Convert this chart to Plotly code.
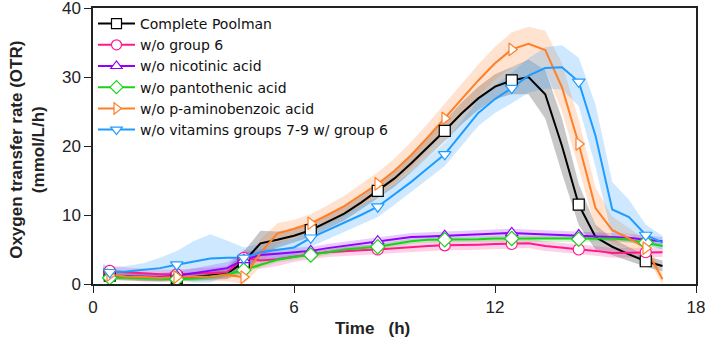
import plotly.graph_objects as go

time_h = [0.3, 0.5, 1.0, 1.5, 2.0, 2.5, 3.0, 3.5, 4.0, 4.5, 5.0, 5.5, 6.0, 6.5, 7.0, 7.5, 8.0, 8.5,
          9.0, 9.5, 10.0, 10.5, 11.0, 11.5, 12.0, 12.5, 13.0, 13.5, 14.0, 14.5, 15.0, 15.5, 16.0, 16.5, 17.0]
marker_times = [0.5, 2.5, 4.5, 6.5, 8.5, 10.5, 12.5, 14.5, 16.5]

complete = [1.3, 1.2, 1.1, 1.0, 0.9, 0.9, 1.0, 1.2, 1.5, 3.2, 5.9, 6.4, 7.0, 7.8, 9.0, 10.2, 11.8, 13.5,
            15.3, 17.5, 19.8, 22.2, 24.7, 26.9, 28.6, 29.5, 30.0, 27.5, 20.0, 11.5, 6.8, 5.4, 4.3, 3.3, 2.6]
complete_err = [0.5, 0.5, 0.5, 0.5, 0.5, 0.5, 0.5, 0.6, 0.8, 1.5, 1.8, 1.2, 1.0, 1.0, 1.0, 1.0, 1.0, 1.1,
                1.2, 1.3, 1.4, 1.5, 1.6, 1.7, 1.8, 2.0, 2.5, 3.5, 4.0, 3.0, 1.8, 1.2, 1.0, 0.8, 0.8]

group6 = [1.9, 1.9, 1.7, 1.5, 1.4, 1.4, 1.5, 1.6, 1.7, 3.8, 3.4, 3.6, 4.0, 4.3, 4.6, 4.8, 4.9, 5.0,
          5.2, 5.4, 5.5, 5.6, 5.6, 5.7, 5.8, 5.8, 5.9, 5.5, 5.3, 5.0, 4.8, 4.5, 4.5, 4.6, 4.6]
group6_err = [0.7, 0.7, 0.7, 0.7, 0.7, 0.7, 0.7, 0.8, 0.9, 1.2, 1.2, 1.0, 0.8, 0.7, 0.7, 0.7, 0.7, 0.7,
              0.7, 0.7, 0.7, 0.7, 0.7, 0.7, 0.7, 0.7, 0.7, 0.7, 0.7, 0.7, 0.7, 0.7, 0.7, 0.7, 0.7]

nicotinic = [1.3, 1.2, 1.1, 1.0, 1.0, 1.2, 1.6, 2.0, 2.3, 3.5, 4.2, 4.4, 4.6, 4.8, 5.2, 5.5, 5.9, 6.2,
             6.5, 6.8, 6.9, 7.0, 7.1, 7.2, 7.3, 7.4, 7.3, 7.2, 7.1, 7.1, 7.0, 6.9, 6.7, 6.4, 6.2]
nicotinic_err = [0.6, 0.6, 0.6, 0.6, 0.6, 0.6, 0.7, 0.8, 0.9, 1.0, 0.9, 0.7, 0.6, 0.6, 0.6, 0.6, 0.6, 0.6,
                 0.6, 0.6, 0.6, 0.6, 0.6, 0.6, 0.6, 0.6, 0.6, 0.6, 0.6, 0.6, 0.6, 0.6, 0.6, 0.6, 0.6]

pantothenic = [1.0, 0.9, 0.9, 0.8, 0.7, 0.7, 0.8, 1.0, 1.4, 2.0, 2.8, 3.5, 3.9, 4.2, 4.6, 5.0, 5.2, 5.4,
               5.8, 6.2, 6.4, 6.4, 6.5, 6.5, 6.6, 6.6, 6.5, 6.5, 6.5, 6.5, 6.5, 6.6, 6.4, 6.0, 5.5]
pantothenic_err = [0.4] * 35

paba = [1.4, 1.3, 1.1, 1.0, 0.9, 1.0, 1.0, 1.1, 1.3, 1.0, 4.5, 7.3, 8.0, 8.8, 10.0, 11.3, 12.9, 14.5,
        16.4, 18.7, 21.3, 24.0, 26.8, 29.5, 32.0, 34.0, 34.8, 33.9, 28.5, 20.3, 11.0, 7.8, 6.6, 5.2, 0.7]
paba_err = [0.8, 0.7, 0.6, 0.6, 0.6, 0.6, 0.6, 0.7, 0.9, 1.5, 2.0, 1.5, 1.3, 1.3, 1.4, 1.5, 1.6, 1.7,
            1.8, 1.9, 2.0, 2.1, 2.2, 2.3, 2.4, 2.5, 2.5, 2.8, 3.5, 3.5, 3.0, 2.0, 1.5, 1.2, 0.8]

vit79 = [2.2, 1.7, 1.8, 2.0, 2.3, 2.8, 3.2, 3.7, 3.8, 3.8, 4.6, 4.9, 5.3, 6.7, 7.8, 8.8, 10.0, 11.2,
         13.0, 14.8, 16.8, 18.8, 21.8, 24.8, 26.8, 28.4, 30.2, 31.3, 31.4, 29.3, 21.5, 10.8, 9.7, 7.1, 6.0]
vit79_err = [0.8, 0.7, 0.8, 1.0, 1.5, 2.0, 3.0, 3.5, 2.5, 1.5, 1.2, 1.2, 1.3, 1.3, 1.3, 1.3, 1.4, 1.5,
             1.5, 1.5, 1.6, 1.7, 1.8, 1.9, 2.0, 2.2, 2.5, 3.0, 3.2, 3.5, 4.5, 4.0, 2.5, 1.5, 1.0]

series = [
    ("Complete Poolman", complete, complete_err, "#000000", "rgba(0,0,0,0.22)", "square"),
    ("w/o group 6", group6, group6_err, "#ff1a8c", "rgba(255,26,140,0.2)", "circle"),
    ("w/o nicotinic acid", nicotinic, nicotinic_err, "#8f00ff", "rgba(143,0,255,0.2)", "triangle-up"),
    ("w/o pantothenic acid", pantothenic, pantothenic_err, "#19d219", "rgba(25,210,25,0.2)", "diamond"),
    ("w/o p-aminobenzoic acid", paba, paba_err, "#ff7f27", "rgba(255,127,39,0.22)", "triangle-right"),
    ("w/o vitamins groups 7-9 w/ group 6", vit79, vit79_err, "#1e9bff", "rgba(30,155,255,0.22)", "triangle-down"),
]

fig = go.Figure()

# uncertainty bands
for name, vals, err, col, fcol, sym in series:
    upper = [v + e for v, e in zip(vals, err)]
    lower = [max(v - e, 0) for v, e in zip(vals, err)]
    fig.add_trace(go.Scatter(x=time_h + time_h[::-1], y=upper + lower[::-1], fill="toself",
                             fillcolor=fcol, line=dict(width=0), mode="lines",
                             hoverinfo="skip", showlegend=False))
# lines
for name, vals, err, col, fcol, sym in series:
    fig.add_trace(go.Scatter(x=time_h, y=vals, mode="lines", line=dict(color=col, width=2),
                             showlegend=False))
# markers
for name, vals, err, col, fcol, sym in series:
    mx = [t for t in time_h if t in marker_times]
    my = [v for t, v in zip(time_h, vals) if t in marker_times]
    fig.add_trace(go.Scatter(x=mx, y=my, mode="markers",
                             marker=dict(symbol=sym, size=11, color="white",
                                         line=dict(color=col, width=1.2)),
                             showlegend=False))
# legend entries
for name, vals, err, col, fcol, sym in series:
    fig.add_trace(go.Scatter(x=[None], y=[None], mode="lines+markers", name=name,
                             line=dict(color=col, width=2),
                             marker=dict(symbol=sym, size=10, color="white",
                                         line=dict(color=col, width=1.2))))

fig.update_layout(
    width=708, height=340,
    margin=dict(l=93, r=12, t=8, b=56, autoexpand=False),
    paper_bgcolor="white", plot_bgcolor="white",
    font=dict(family="Arial, Liberation Sans, sans-serif", color="#222"),
    showlegend=True,
    legend=dict(x=0.0, y=1.0, xanchor="left", yanchor="top", bgcolor="rgba(0,0,0,0)",
                font=dict(size=14, color="#111", family="DejaVu Sans, Arial, sans-serif"),
                tracegroupgap=0, itemwidth=37),
    xaxis=dict(range=[0, 18], tickvals=[0, 6, 12, 18], ticks="outside", ticklen=7,
               tickwidth=1.2, tickcolor="#222", showline=True, linecolor="#222", linewidth=1.5,
               mirror=True, showgrid=False, zeroline=False, tickfont=dict(size=17),
               automargin=False, ticklabeloverflow="allow"),
    yaxis=dict(range=[0, 40], tickvals=[0, 10, 20, 30, 40], ticks="outside", ticklen=7,
               tickwidth=1.2, tickcolor="#222", showline=True, linecolor="#222", linewidth=1.5,
               mirror=True, showgrid=False, zeroline=False, tickfont=dict(size=17),
               automargin=False, ticklabeloverflow="allow"),
    annotations=[
        dict(text="<b>Oxygen transfer rate (OTR)<br>(mmol/L/h)</b>", textangle=-90,
             xref="paper", yref="paper", x=-0.11, y=0.485, xanchor="center", yanchor="middle",
             showarrow=False, font=dict(size=17, color="#222")),
        dict(text="<b>Time\u00a0\u00a0\u00a0(h)</b>", xref="paper", yref="paper",
             x=0.464, y=-0.16, xanchor="center", yanchor="middle", showarrow=False,
             font=dict(size=17, color="#222",
                       family="Liberation Sans Narrow, Arial Narrow, Arial, sans-serif")),
    ],
)

fig.write_html("out.html", config={"displayModeBar": False},
               post_script="document.body.style.margin='0';")
